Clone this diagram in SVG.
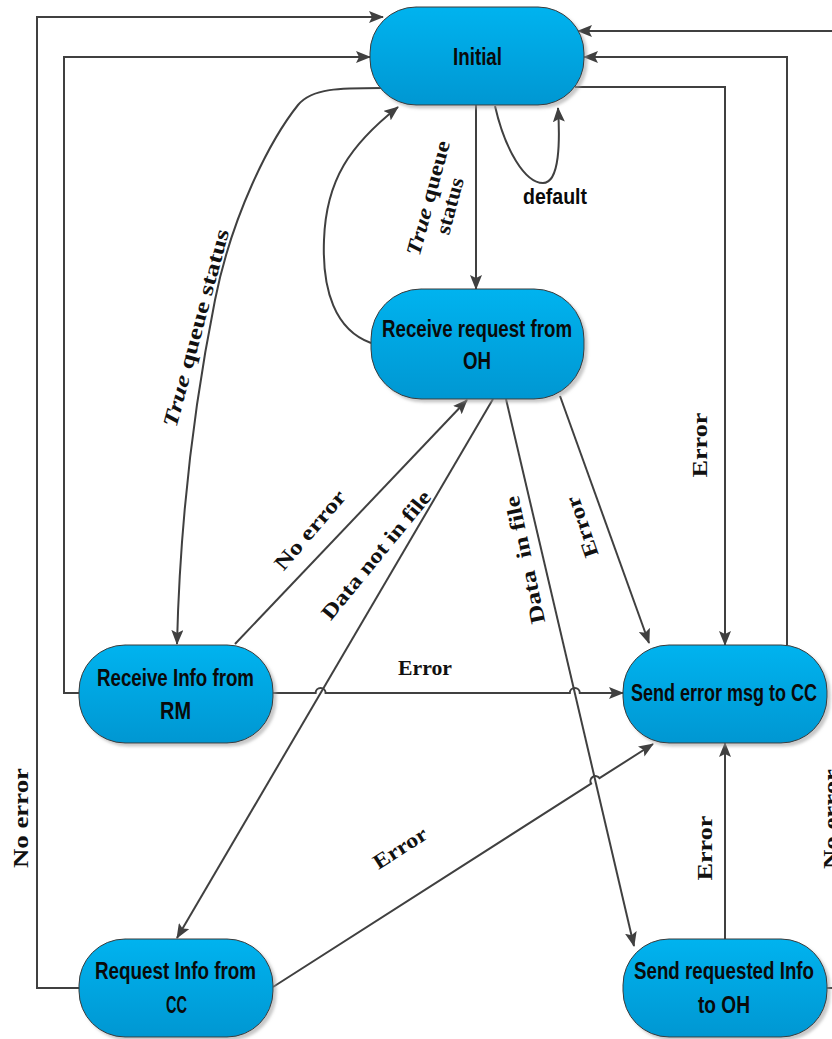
<svg xmlns="http://www.w3.org/2000/svg" width="832" height="1039" viewBox="0 0 832 1039">
  <style>
    .node { fill: url(#nodeFill); stroke: #3a3a3a; stroke-width: 1; filter: url(#shade); }
    .ntext { font-family: "Liberation Sans", Arial, sans-serif; font-weight: bold; font-size: 20px; fill: #0a0a0a; text-anchor: middle; }
    .edge { fill: none; stroke: #404040; stroke-width: 2; }
    .arrow { marker-end: url(#head); }
    .lbl { font-family: "Liberation Serif", "Times New Roman", serif; font-weight: bold; font-size: 21px; fill: #111; text-anchor: middle; }
  </style>
  <defs>
    <linearGradient id="nodeFill" x1="0" y1="0" x2="0" y2="1">
      <stop offset="0" stop-color="#00b3ef"/>
      <stop offset="1" stop-color="#0097d2"/>
    </linearGradient>
    <filter id="shade" x="-10%" y="-10%" width="125%" height="130%">
      <feDropShadow dx="3" dy="3" stdDeviation="1.5" flood-color="#9a9a9a" flood-opacity="0.55"/>
    </filter>
    <marker id="head" viewBox="0 0 15 12" refX="14" refY="6" markerWidth="15" markerHeight="12" markerUnits="userSpaceOnUse" orient="auto">
      <path d="M0,0 L15,6 L0,12 L3,6 z" fill="#404040"/>
    </marker>
  </defs>

  <rect width="832" height="1039" fill="#ffffff"/>

  <!-- connectors -->
  <g id="connectors">
    <!-- Initial -> Receive request from OH -->
    <path class="edge arrow" d="M476,105 V289"/>
    <!-- Initial self loop (default) -->
    <path class="edge arrow" d="M495,106 C505,150 525,183 543,183 C560,183 560,140 558,108"/>
    <!-- Receive request from OH -> Initial -->
    <path class="edge arrow" d="M371,343 C335,330 322,290 324,240 C326,180 350,145 398,107"/>
    <!-- Initial -> Receive Info from RM -->
    <path class="edge arrow" d="M382,88 C340,88 312,88 298,105 C270,140 232,215 215,300 C195,400 180,520 177,644"/>
    <!-- Receive Info from RM -> Receive request from OH -->
    <path class="edge arrow" d="M235,644 L467,400"/>
    <!-- Receive request from OH -> Request Info from CC -->
    <path class="edge arrow" d="M493,399 L177,938"/>
    <!-- Receive request from OH -> Send requested Info to OH -->
    <path class="edge arrow" d="M506,399 L634,946"/>
    <!-- Receive request from OH -> Send error msg to CC -->
    <path class="edge arrow" d="M560,396 L649,643"/>
    <!-- Initial -> Send error msg to CC -->
    <path class="edge arrow" d="M575,87 H725 V645"/>
    <!-- Send error msg to CC -> Initial -->
    <path class="edge arrow" d="M787,645 V57 H584"/>
    <!-- Send requested Info to OH -> Initial -->
    <path class="edge arrow" d="M827,988 H845 V31 H578"/>
    <!-- Request Info from CC -> Initial -->
    <path class="edge arrow" d="M79,988 H37 V17 H383"/>
    <!-- Receive Info from RM -> Initial -->
    <path class="edge arrow" d="M79,693 H64 V57 H370"/>
    <!-- Receive Info from RM -> Send error msg to CC (with line hops) -->
    <path class="edge arrow" d="M273,693 H315.6 A5,5 0 0 1 325.6,693 H569.8 A5,5 0 0 1 579.8,693 H623"/>
    <!-- Request Info from CC -> Send error msg to CC (with line hop) -->
    <path class="edge arrow" d="M273,987 L591.1,783.6 A5,5 0 0 1 599.5,778.2 L653,744"/>
    <!-- Send requested Info to OH -> Send error msg to CC -->
    <path class="edge arrow" d="M725,939 V743"/>
  </g>

  <!-- connector labels -->
  <g id="labels">
    <text class="lbl" transform="translate(196,328) rotate(-75)" y="7" textLength="204" lengthAdjust="spacingAndGlyphs"><tspan font-style="italic">True</tspan> queue status</text>
    <g transform="translate(428,198) rotate(-75)">
      <text class="lbl" x="0" y="7" textLength="118" lengthAdjust="spacingAndGlyphs"><tspan font-style="italic">True</tspan> queue</text>
      <text class="lbl" x="-2" y="30" textLength="58" lengthAdjust="spacingAndGlyphs">status</text>
    </g>
    <text class="ntext" transform="translate(555,204) scale(1,1.15)" style="font-size:19px" textLength="64" lengthAdjust="spacingAndGlyphs">default</text>
    <text class="lbl" transform="translate(310,530) rotate(-49.5)" y="7" textLength="98" lengthAdjust="spacingAndGlyphs">No error</text>
    <text class="lbl" transform="translate(376,555) rotate(-50.6)" y="7" textLength="160" lengthAdjust="spacingAndGlyphs">Data not in file</text>
    <text class="lbl" transform="translate(525,560) rotate(-102)" y="7" style="white-space:pre" textLength="130" lengthAdjust="spacingAndGlyphs">Data  in file</text>
    <text class="lbl" transform="translate(582,527) rotate(-109)" y="7" textLength="63" lengthAdjust="spacingAndGlyphs">Error</text>
    <text class="lbl" transform="translate(700,445) rotate(-90)" y="7" textLength="65" lengthAdjust="spacingAndGlyphs">Error</text>
    <text class="lbl" x="425" y="675" textLength="54" lengthAdjust="spacingAndGlyphs">Error</text>
    <text class="lbl" transform="translate(400,848) rotate(-32.4)" y="7" textLength="60" lengthAdjust="spacingAndGlyphs">Error</text>
    <text class="lbl" transform="translate(705,848) rotate(-90)" y="7" textLength="65" lengthAdjust="spacingAndGlyphs">Error</text>
    <text class="lbl" transform="translate(28,818) rotate(-90)" textLength="100" lengthAdjust="spacingAndGlyphs">No error</text>
    <text class="lbl" transform="translate(838,819) rotate(-90)" textLength="100" lengthAdjust="spacingAndGlyphs">No error</text>
  </g>

  <!-- states -->
  <g id="initial">
    <rect class="node" x="370" y="7" width="214" height="98" rx="46" ry="46"/>
    <text class="ntext" transform="translate(477.5,65) scale(1,1.2)" textLength="49" lengthAdjust="spacingAndGlyphs">Initial</text>
  </g>
  <g id="receive-request-oh">
    <rect class="node" x="371" y="289" width="213" height="110" rx="50" ry="50"/>
    <text class="ntext" transform="translate(477,337) scale(1,1.2)" textLength="190" lengthAdjust="spacingAndGlyphs">Receive request from</text>
    <text class="ntext" transform="translate(477,369) scale(1,1.2)" textLength="28" lengthAdjust="spacingAndGlyphs">OH</text>
  </g>
  <g id="receive-info-rm">
    <rect class="node" x="79" y="645" width="194" height="98" rx="46" ry="46"/>
    <text class="ntext" transform="translate(175.5,686) scale(1,1.2)" textLength="157" lengthAdjust="spacingAndGlyphs">Receive Info from</text>
    <text class="ntext" transform="translate(175.5,719) scale(1,1.2)" textLength="31" lengthAdjust="spacingAndGlyphs">RM</text>
  </g>
  <g id="send-error-cc">
    <rect class="node" x="623" y="645" width="204" height="98" rx="46" ry="46"/>
    <text class="ntext" transform="translate(724,701) scale(1,1.26)" style="font-size:19px" textLength="186" lengthAdjust="spacingAndGlyphs">Send error msg to CC</text>
  </g>
  <g id="request-info-cc">
    <rect class="node" x="79" y="939" width="194" height="98" rx="46" ry="46"/>
    <text class="ntext" transform="translate(175.5,979) scale(1,1.2)" textLength="161" lengthAdjust="spacingAndGlyphs">Request Info from</text>
    <text class="ntext" transform="translate(176.5,1013) scale(1,1.2)" textLength="21" lengthAdjust="spacingAndGlyphs">CC</text>
  </g>
  <g id="send-requested-oh">
    <rect class="node" x="623" y="939" width="204" height="98" rx="46" ry="46"/>
    <text class="ntext" transform="translate(724,979) scale(1,1.2)" textLength="180" lengthAdjust="spacingAndGlyphs">Send requested Info</text>
    <text class="ntext" transform="translate(724,1013) scale(1,1.2)" textLength="52" lengthAdjust="spacingAndGlyphs">to OH</text>
  </g>
</svg>
